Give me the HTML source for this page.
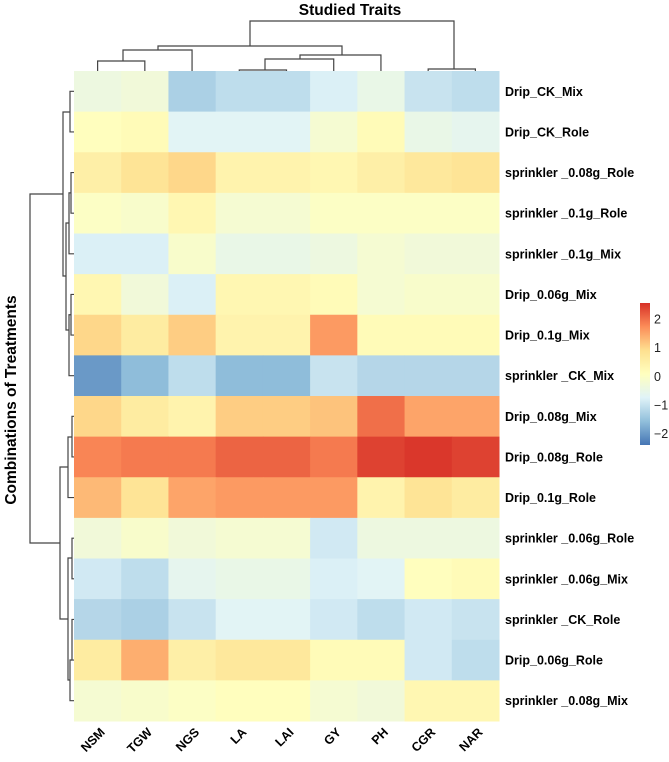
<!DOCTYPE html>
<html><head><meta charset="utf-8"><style>
body{margin:0;background:#fff;}
svg text{font-family:"Liberation Sans",Arial,sans-serif;}
</style></head><body>
<svg id="chart" width="669" height="757" xmlns="http://www.w3.org/2000/svg">
<g id="cells"></g><g id="rowlabels"></g><g id="collabels"></g><g id="dendro" stroke="#444" stroke-width="1.2" fill="none"></g><g id="legend"></g>
<text x="350" y="15" text-anchor="middle" font-size="15.5" font-weight="bold">Studied Traits</text>
<text transform="translate(16,400) rotate(-90)" text-anchor="middle" font-size="15.5" font-weight="bold">Combinations of Treatments</text>
</svg>
<script>
const traits=["NSM","TGW","NGS","LA","LAI","GY","PH","CGR","NAR"];
const treatments=["Drip_CK_Mix","Drip_CK_Role","sprinkler _0.08g_Role","sprinkler _0.1g_Role","sprinkler _0.1g_Mix","Drip_0.06g_Mix","Drip_0.1g_Mix","sprinkler _CK_Mix","Drip_0.08g_Mix","Drip_0.08g_Role","Drip_0.1g_Role","sprinkler _0.06g_Role","sprinkler _0.06g_Mix","sprinkler _CK_Role","Drip_0.06g_Role","sprinkler _0.08g_Mix"];
const values=[
[-0.4,-0.3,-1.3,-1.1,-1.1,-0.8,-0.5,-1.0,-1.1],
[0.1,0.2,-0.7,-0.7,-0.7,-0.2,0.2,-0.5,-0.6],
[0.5,0.8,1.0,0.4,0.4,0.3,0.5,0.7,0.8],
[0.0,-0.1,0.3,-0.2,-0.2,0.0,0.0,0.0,0.0],
[-0.8,-0.8,-0.1,-0.5,-0.5,-0.4,-0.2,-0.3,-0.3],
[0.3,-0.3,-0.8,0.3,0.3,0.2,-0.2,-0.1,-0.1],
[1.0,0.6,1.1,0.4,0.4,1.6,0.2,0.2,0.2],
[-2.0,-1.6,-1.1,-1.6,-1.6,-1.0,-1.2,-1.2,-1.2],
[1.0,0.6,0.4,1.1,1.1,1.2,2.0,1.5,1.5],
[1.8,1.9,1.9,2.1,2.1,1.9,2.4,2.5,2.4],
[1.3,0.8,1.5,1.6,1.6,1.6,0.4,0.8,0.6],
[-0.3,-0.1,-0.3,-0.2,-0.2,-0.9,-0.4,-0.4,-0.4],
[-0.9,-1.1,-0.6,-0.5,-0.5,-0.8,-0.7,0.1,0.2],
[-1.2,-1.3,-1.0,-0.7,-0.7,-0.9,-1.1,-0.9,-1.0],
[0.6,1.4,0.5,0.7,0.7,0.2,0.2,-0.9,-1.1],
[-0.2,-0.1,0.0,0.1,0.1,-0.2,-0.3,0.3,0.3]];
const legendTicks=[2,1,0,-1,-2];
const vmin=-2.4,vmax=2.56;
const pal=["#4575B4","#91BFDB","#E0F3F8","#FFFFBF","#FEE090","#FC8D59","#D73027"];
function hex(h){return[1,3,5].map(i=>parseInt(h.substr(i,2),16));}
function color(v){let t=(v-vmin)/(vmax-vmin);t=Math.max(0,Math.min(1,t))*(pal.length-1);let i=Math.min(Math.floor(t),pal.length-2),f=t-i;const a=hex(pal[i]),b=hex(pal[i+1]);return"rgb("+a.map((x,k)=>Math.round(x+(b[k]-x)*f)).join(",")+")";}
const X0=74,X1=499,Y0=71,Y1=721;
const cw=(X1-X0)/traits.length,ch=(Y1-Y0)/treatments.length;
const xc=j=>X0+cw*(j+0.5),yc=i=>Y0+ch*(i+0.5);
const NS="http://www.w3.org/2000/svg";
function mk(tag,attrs,parent){const e=document.createElementNS(NS,tag);for(const k in attrs)e.setAttribute(k,attrs[k]);parent.appendChild(e);return e;}
const cells=document.getElementById('cells');
values.forEach((row,i)=>row.forEach((v,j)=>{
 const r=mk('rect',{x:X0+cw*j,y:Y0+ch*i,width:cw+0.5,height:ch+0.5,fill:color(v)},cells);
 
 
}));
const rl=document.getElementById('rowlabels');
treatments.forEach((t,i)=>{
 const e=mk('text',{x:X1+6,y:yc(i)+4.5,'font-size':12.5,'font-weight':'bold'},rl);e.textContent=t;
 
 
});
const cl=document.getElementById('collabels');
traits.forEach((t,j)=>{
 const e=mk('text',{transform:`translate(${xc(j)+8},${Y1+12}) rotate(-45)`,'text-anchor':'end','font-size':12.5,'font-weight':'bold'},cl);e.textContent=t;
 
 
});
// dendrograms
const d=document.getElementById('dendro');
function seg(pts){const p=mk('polyline',{points:pts.map(q=>q.join(',')).join(' ')},d);}
// column dendrogram
seg([[xc(0),71],[xc(0),61],[xc(1),61],[xc(1),71]]);
seg([[123,61],[123,50],[xc(2),50],[xc(2),71]]);
seg([[xc(3),71],[xc(3),70],[xc(4),70],[xc(4),71]]);
seg([[265,70],[265,59],[xc(5),59],[xc(5),71]]);
seg([[300,59],[300,55],[xc(6),55],[xc(6),71]]);
seg([[158,50],[158,46],[342,46],[342,55]]);
seg([[xc(7),71],[xc(7),69],[xc(8),69],[xc(8),71]]);
seg([[250,46],[250,21],[454,21],[454,69]]);
// row dendrogram
function rj(x,ya,xa,yb,xb){seg([[xa,ya],[x,ya],[x,yb],[xb,yb]]);}
rj(70,yc(0),74,yc(1),74);
rj(71,yc(2),74,yc(3),74);
rj(69,(yc(2)+yc(3))/2,71,yc(4),74);
rj(71,yc(5),74,yc(6),74);
rj(69,(yc(5)+yc(6))/2,71,yc(7),74);
rj(66,223,69,330,69);
rj(63,112,70,276,66);
rj(72,yc(8),74,yc(9),74);
rj(68,437,72,yc(10),74);
rj(72,yc(11),74,yc(12),74);
rj(72,yc(13),74,yc(14),74);
rj(70,660,72,yc(15),74);
rj(68,558,72,680,70);
rj(60,467,68,619,68);
rj(30,194,63,543,60);
// legend
const lg=document.getElementById('legend');
const LT=303,LB=445,LX=640,LW=10;
const grad=mk('linearGradient',{id:'lgrad',x1:0,y1:1,x2:0,y2:0},mk('defs',{},lg));
pal.forEach((c,k)=>mk('stop',{offset:k/(pal.length-1),'stop-color':c},grad));
const lr=mk('rect',{x:LX,y:LT,width:LW,height:LB-LT,fill:'url(#lgrad)'},lg);


const ly=v=>LB-(v-vmin)/(vmax-vmin)*(LB-LT);
legendTicks.forEach(v=>{
 const e=mk('text',{x:LX+LW+4,y:ly(v)+4.5,'font-size':12.5,fill:'#222'},lg);e.textContent=v<0?'\u2212'+(-v):String(v);
 
 
});
</script>
</body></html>
